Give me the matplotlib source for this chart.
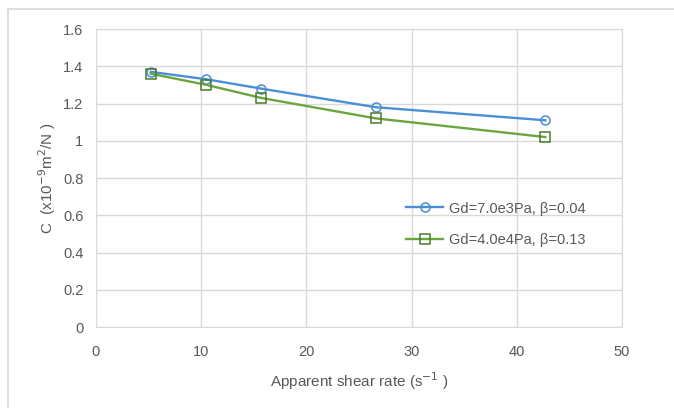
import matplotlib.pyplot as plt
from matplotlib.lines import Line2D
from matplotlib.ticker import FuncFormatter

# dados
taxa_cis = [5.2, 10.5, 15.7, 26.6, 42.7]
c_gd7 = [1.37, 1.33, 1.28, 1.18, 1.11]
c_gd4 = [1.36, 1.30, 1.23, 1.12, 1.02]
nome1 = "Gd=7.0e3Pa, β=0.04"
nome2 = "Gd=4.0e4Pa, β=0.13"

plt.rcParams['font.family'] = ['Liberation Sans', 'DejaVu Sans']
cinza = "#595959"

fig = plt.figure(figsize=(6.74, 4.08), dpi=100)
ax = fig.add_axes([0.1424, 0.1985, 0.7806, 0.7304])

ax.plot(taxa_cis, c_gd7, color="#4a8fd6", lw=1.7, marker="o", ms=6.5,
        mfc="none", mec="#4a8fd6", mew=1.1, label=nome1, zorder=3)
ax.plot(taxa_cis, c_gd4, color="#6aa63e", lw=1.7, marker="s", ms=6.5,
        mfc="none", mec="#4a7a2a", mew=1.1, label=nome2, zorder=3)

ax.set_xlim(0, 50)
ax.set_ylim(0, 1.6)
ax.set_xticks(range(0, 51, 10))
ax.set_yticks([i * 0.2 for i in range(9)])
ax.yaxis.set_major_formatter(FuncFormatter(lambda v, p: "%g" % round(v, 1)))
ax.grid(True, color="#d9d9d9", lw=1)
ax.set_axisbelow(True)
for s in ax.spines.values():
    s.set_color("#d9d9d9")
ax.tick_params(length=0, labelsize=10.5, colors=cinza)
ax.tick_params(axis="x", pad=13)
ax.tick_params(axis="y", pad=9)

ax.set_xlabel("Apparent shear rate (s$^{-1}$ )", fontsize=11, color=cinza, labelpad=8)
ax.set_ylabel("C  (x10$^{-9}$m$^{2}$/N )", fontsize=11, color=cinza, labelpad=4)

leg = ax.legend(loc="upper left", bbox_to_anchor=(0.565, 0.465), frameon=False,
                fontsize=10.5, labelspacing=1.2, handlelength=2.5, handletextpad=0.4)
for t in leg.get_texts():
    t.set_color(cinza)

# borda da area do grafico (so topo e esquerda aparecem)
fig.add_artist(Line2D([0.012, 1.0], [0.979, 0.979], transform=fig.transFigure,
                      color="#d9d9d9", lw=1.2))
fig.add_artist(Line2D([0.012, 0.012], [0.0, 0.979], transform=fig.transFigure,
                      color="#d9d9d9", lw=1.2))

fig.savefig("out.png", dpi=100)
